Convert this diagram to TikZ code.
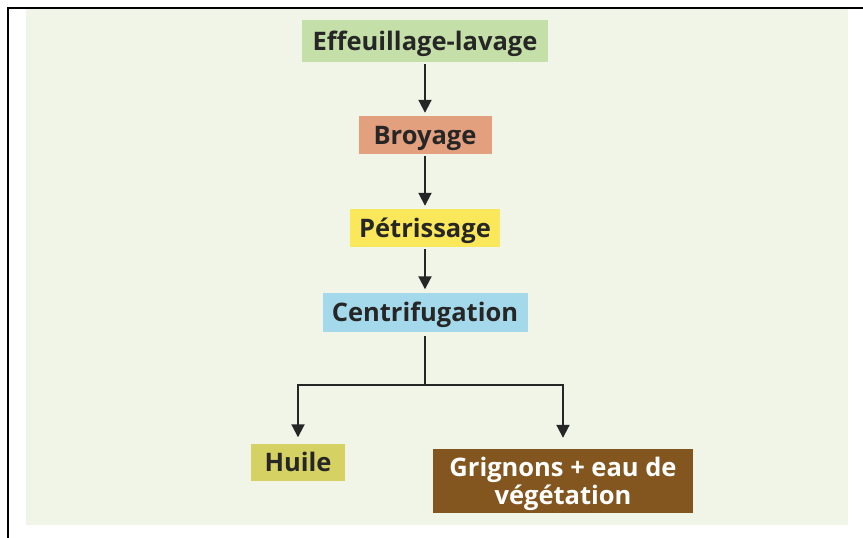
\documentclass[tikz,border=0pt]{standalone}
\usepackage{fontspec}
\setmainfont{Open Sans}
\usetikzlibrary{arrows.meta, positioning}
\definecolor{panel1}{RGB}{241,245,231}
\definecolor{green1}{RGB}{196,224,168}
\definecolor{orange1}{RGB}{227,160,126}
\definecolor{yellow1}{RGB}{251,232,90}
\definecolor{blue1}{RGB}{163,217,234}
\definecolor{olive1}{RGB}{213,210,99}
\definecolor{brown1}{RGB}{131,86,31}
\definecolor{text1}{RGB}{38,38,38}

\begin{document}
\begin{tikzpicture}[x=1pt, y=-1pt]
    \tikzstyle{etape} = [draw=none, text=text1, inner sep=0pt, align=center, text depth=0pt,
                         font=\fontsize{25.5}{28}\selectfont\bfseries]
    \tikzstyle{fleche} = [draw=text1, line width=2pt, -{Triangle[width=13pt,length=13pt]}]
    \useasboundingbox (0,0) rectangle (863,538);
    % fond et cadre
    \fill[panel1] (26,9) rectangle (848,525);
    \draw[line width=2pt] (8,538) -- (8,8) -- (863,8);

    \node[etape, fill=green1,  minimum width=246pt, minimum height=42pt] (eff)   at (425,41)  {Effeuillage-lavage};
    \node[etape, fill=orange1, minimum width=133pt, minimum height=38pt] (broy)  at (425,135) {Broyage};
    \node[etape, fill=yellow1, minimum width=150pt, minimum height=38pt] (petr)  at (425,228) {Pétrissage};
    \node[etape, fill=blue1,   minimum width=205pt, minimum height=39pt] (centr) at (425,312) {Centrifugation};
    \node[etape, fill=olive1,  minimum width=94pt,  minimum height=37pt] (huile) at (298,462) {Huile};
    \node[etape, fill=brown1,  minimum width=260pt, minimum height=64pt, text=white] (grig) at (563,481) {Grignons + eau de\\végétation};
    \coordinate (split) at (425,385);

    \draw[fleche, shorten <=2pt, shorten >=3pt] (eff)   -- (broy);
    \draw[fleche, shorten <=2pt, shorten >=3pt] (broy)  -- (petr);
    \draw[fleche, shorten <=2pt, shorten >=3pt] (petr)  -- (centr);
    \draw[draw=text1, line width=2pt, shorten <=4pt] (centr) -- (split);
    \draw[fleche, shorten >=6pt]  (split) -| (huile);
    \draw[fleche, shorten >=11pt] (split) -| (grig);
\end{tikzpicture}
\end{document}
